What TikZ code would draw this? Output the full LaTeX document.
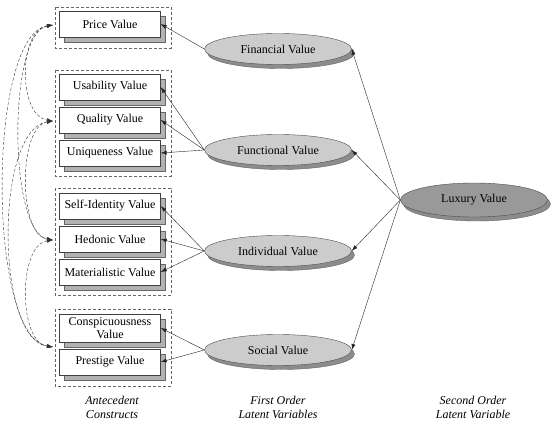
\documentclass[tikz,border=0pt]{standalone}
\usepackage{fontspec}
\setmainfont{Liberation Serif}
\usetikzlibrary{shapes.geometric,shadows,arrows.meta}

\tikzset{
	valbox/.style={draw=black!75, fill=white, minimum width=101pt, minimum height=26pt,
		inner sep=1pt, align=center, font=\fontsize{12}{13}\selectfont,
		copy shadow={shadow xshift=5pt, shadow yshift=-5pt, fill=black!30, draw=black!60}},
	latent/.style={ellipse, draw=black!70, fill=black!20, minimum width=147pt, minimum height=31pt,
		inner sep=0pt, font=\fontsize{12}{13}\selectfont,
		copy shadow={shadow xshift=3pt, shadow yshift=-4pt, fill=black!45, draw=black!60}},
	grp/.style={dash pattern=on 3pt off 2pt, draw=black!60},
	arr/.style={-{Latex[length=6pt,width=4pt]}, draw=black!85},
	cov/.style={{Latex[length=6pt,width=4pt]}-{Latex[length=6pt,width=4pt]},
		dash pattern=on 3pt off 2pt, draw=black!80},
	caption/.style={align=center, font=\fontsize{12}{14}\selectfont\itshape}
}

\begin{document}
\begin{tikzpicture}[x=1pt,y=-1pt]
		\useasboundingbox (0,0) rectangle (552,431);

		% Antecedent constructs
		\draw[grp] (55,7) rectangle (171,48);
		\draw[grp] (55,70) rectangle (171,176);
		\draw[grp] (55,188) rectangle (171,295);
		\draw[grp] (55,309) rectangle (171,386);
		\node[valbox] (price) at (110,24) {Price Value};
		\node[valbox] (usab) at (110,87) {Usability Value};
		\node[valbox] (qual) at (110,120) {Quality Value};
		\node[valbox] (uniq) at (110,153) {Uniqueness Value};
		\node[valbox] (self) at (110,206) {Self-Identity Value};
		\node[valbox] (hedo) at (110,239) {Hedonic Value};
		\node[valbox] (mate) at (110,272) {Materialistic Value};
		\node[valbox, minimum height=28pt] (consp) at (110,328) {Conspicuousness\\Value};
		\node[valbox] (prest) at (110,362) {Prestige Value};

		% Covariances
		\coordinate (a1) at (53,25);
		\coordinate (a2) at (53,121);
		\coordinate (a3) at (53,240);
		\coordinate (a4) at (53,347);
		\draw[cov] (a1) .. controls +(-35,5) and +(-35,-5) .. (a2);
		\draw[cov] (a2) .. controls +(-35,5) and +(-35,-5) .. (a3);
		\draw[cov] (a3) .. controls +(-35,5) and +(-35,-5) .. (a4);
		\draw[cov] (a1) .. controls +(-45,8) and +(-45,-8) .. (a3);
		\draw[cov] (a2) .. controls +(-58,8) and +(-58,-8) .. (a4);
		\draw[cov] (a1) .. controls +(-66,10) and +(-66,-10) .. (a4);

		% First order latent variables
		\node[latent] (fin) at (278,49) {Financial Value};
		\node[latent] (func) at (278,150) {Functional Value};
		\node[latent] (indi) at (278,251) {Individual Value};
		\node[latent] (soci) at (278,350) {Social Value};

		% Second order latent variable
		\node[latent, fill=black!40, minimum height=34pt] (lux) at (474,200) {Luxury Value};

		\draw[arr] (fin.west) -- (price.east);
		\foreach \b in {usab,qual,uniq} \draw[arr] (func.west) -- (\b.east);
		\foreach \b in {self,hedo,mate} \draw[arr] (indi.west) -- (\b.east);
		\foreach \b in {consp,prest} \draw[arr] (soci.west) -- (\b.east);
		\foreach \e in {fin,func,indi,soci} \draw[arr] (lux.west) -- (\e.east);

		\node[caption] (capa) at (112,407) {Antecedent\\Constructs};
		\node[caption] (capf) at (278,407) {First Order\\Latent Variables};
		\node[caption] (caps) at (473,407) {Second Order\\Latent Variable};
	\end{tikzpicture}
\end{document}
